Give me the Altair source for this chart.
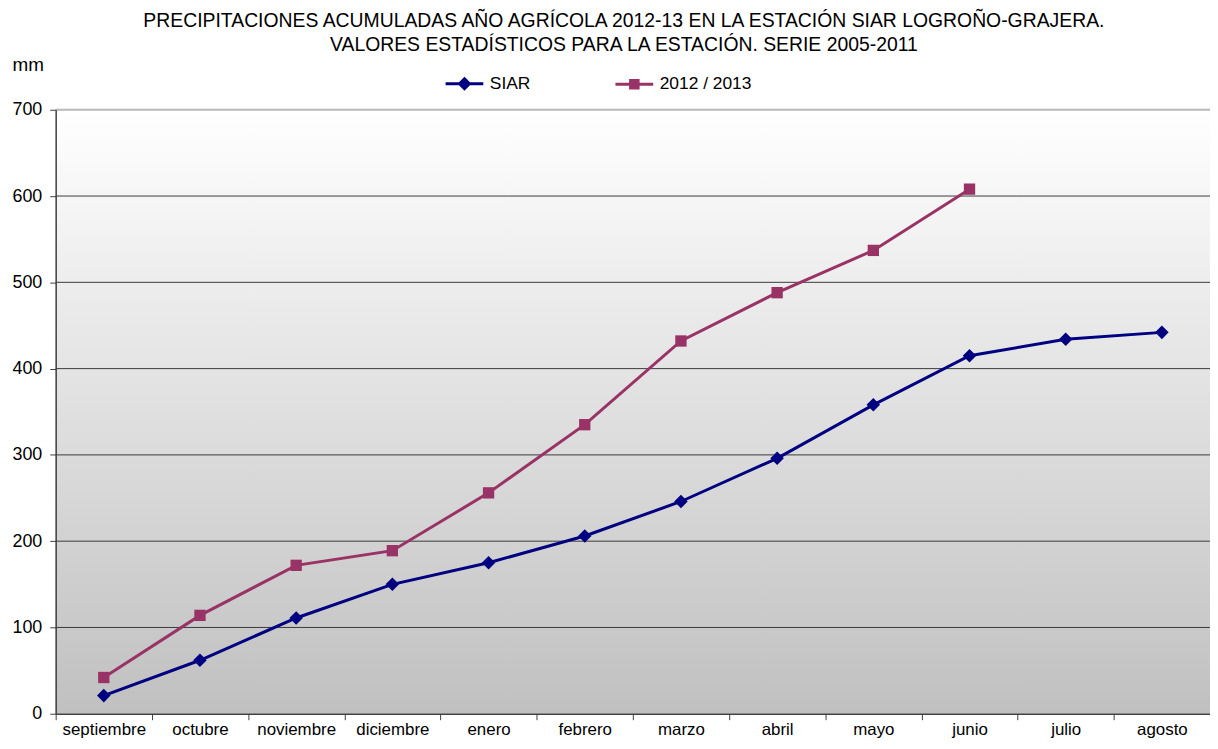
import altair as alt
import pandas as pd

months = ["septiembre", "octubre", "noviembre", "diciembre", "enero", "febrero",
          "marzo", "abril", "mayo", "junio", "julio", "agosto"]
siar = [21, 62, 111, 150, 175, 206, 246, 296, 358, 415, 434, 442]
campaign = [42, 114, 172, 189, 256, 335, 432, 488, 537, 608]
series_names = ["SIAR", "2012 / 2013"]
series_colors = ["#000080", "#993366"]
y_ticks = [0, 100, 200, 300, 400, 500, 600, 700]
grid_values = [100, 200, 300, 400, 500, 600]

title_lines = ["PRECIPITACIONES ACUMULADAS AÑO AGRÍCOLA 2012-13 EN LA ESTACIÓN SIAR LOGROÑO-GRAJERA.",
               "VALORES ESTADÍSTICOS PARA LA ESTACIÓN. SERIE 2005-2011"]

rows = []
for m, v in zip(months, siar):
    rows.append({"mes": m, "mm": v, "serie": "SIAR"})
for m, v in zip(months, campaign):
    rows.append({"mes": m, "mm": v, "serie": "2012 / 2013"})
df = pd.DataFrame(rows)

FONT = "Liberation Sans"
W, H = 1162, 608

x_enc = alt.X("mes:N", sort=months,
              scale=alt.Scale(type="band", domain=months, paddingInner=0, paddingOuter=0),
              axis=alt.Axis(title=None, labelAngle=0, tickBand="extent", domainColor="#404040",
                            domainWidth=1.5, tickColor="#404040", tickWidth=1, tickSize=6,
                            labelFontSize=17, labelFont=FONT, labelColor="black",
                            labelPadding=2, grid=False, zindex=1))
y_enc = alt.Y("mm:Q",
              scale=alt.Scale(domain=[0, 700], nice=False, zero=True),
              axis=alt.Axis(values=y_ticks, grid=False, tickSize=6, tickColor="#404040",
                            domainColor="#404040", domainWidth=1.5, labelPadding=8,
                            labelFontSize=18, labelFont=FONT, labelColor="black",
                            title="mm", titleAngle=0, titleX=-44, titleY=-46,
                            titleAlign="left", titleBaseline="middle", titleFontWeight="normal",
                            titleFontSize=19, titleFont=FONT, titleColor="black", zindex=1))

diamond_path = ("M-1,0L1,0 M0,-0.26L0.26,0L0,0.26L-0.26,0Z "
                "M0,-0.13L0.13,0L0,0.13L-0.13,0Z")
square_path = ("M-1,0L1,0 M-0.2,-0.2L0.2,-0.2L0.2,0.2L-0.2,0.2Z "
               "M-0.08,-0.08L0.08,-0.08L0.08,0.08L-0.08,0.08Z")

legend = alt.Legend(
    title=None, orient="none", legendX=391, legendY=-47, direction="horizontal",
    padding=0, symbolSize=1444, symbolStrokeWidth=3, labelFontSize=17.5, labelFont=FONT,
    labelColor="black", labelOffset=5, columnPadding=79, symbolOpacity=1,
    symbolType={"expr": "datum.value === 'SIAR' ? '" + diamond_path + "' : '" + square_path + "'"})

color_enc = alt.Color("serie:N", scale=alt.Scale(domain=series_names, range=series_colors), legend=legend)

bg = alt.Chart(alt.Data(values=[{}])).mark_rect(
    color=alt.Gradient(gradient="linear",
                       stops=[alt.GradientStop(color="#ffffff", offset=0),
                              alt.GradientStop(color="#c0c0c0", offset=1)],
                       x1=0, x2=0, y1=0, y2=1)
).encode(x=alt.value(0), x2=alt.value(W), y=alt.value(0), y2=alt.value(H))

grid = alt.Chart(pd.DataFrame({"g": grid_values})).mark_rule(color="#3a3a3a", strokeWidth=1).encode(
    y=alt.Y("g:Q", scale=alt.Scale(domain=[0, 700], nice=False)))
top_line = alt.Chart(pd.DataFrame({"g": [700]})).mark_rule(color="#b8b8b8", strokeWidth=2).encode(
    y=alt.Y("g:Q", scale=alt.Scale(domain=[0, 700], nice=False)))

base = alt.Chart(df).encode(x=x_enc, y=y_enc)
lines = base.mark_line(strokeWidth=3).encode(color=color_enc)
pts_siar = base.transform_filter(alt.datum.serie == "SIAR").mark_point(
    shape="diamond", filled=True, size=185, opacity=1, color=series_colors[0])
pts_1213 = base.transform_filter(alt.datum.serie == "2012 / 2013").mark_point(
    shape="square", filled=True, size=130, opacity=1, color=series_colors[1])

chart = alt.layer(bg, grid, top_line, lines, pts_siar, pts_1213).properties(
    width=W, height=H,
    autosize=alt.AutoSizeParams(type="none"),
    padding={"left": 48, "top": 100, "right": 0, "bottom": 25},
    title=alt.TitleParams(text=title_lines, fontSize=19.5, font=FONT, fontWeight="normal",
                          color="black", anchor="middle", dx=-9, lineHeight=24, offset=0)
).configure_view(strokeWidth=0).configure(background="white")

chart.save("out.html", embed_options={"renderer": "svg", "actions": False})
